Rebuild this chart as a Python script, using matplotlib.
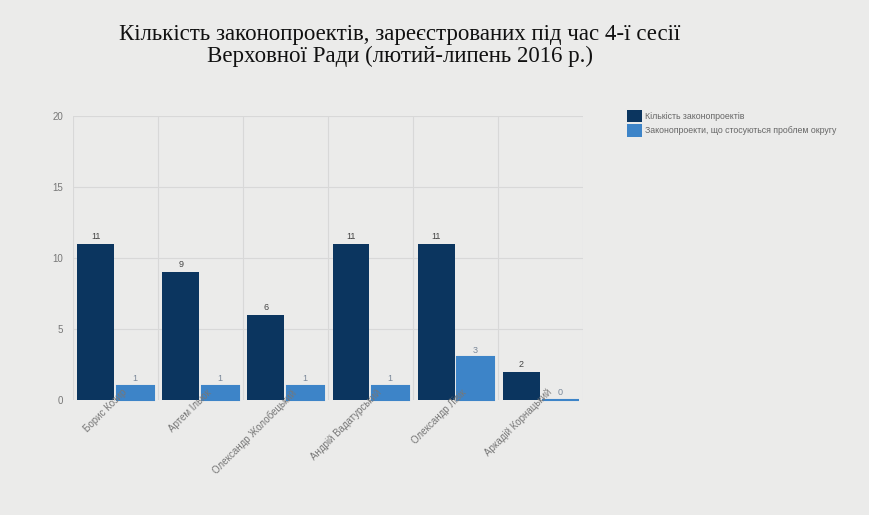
import numpy as np
from matplotlib import pyplot as plt
from matplotlib.patches import Patch

names = ["Борис Козир", "Артем Ільюк", "Олександр Жолобецький",
         "Андрій Вадатурський", "Олександр Лівік", "Аркадій Корнацький"]
bills = [11, 9, 6, 11, 11, 2]
district_bills = [1, 1, 1, 1, 3, 0]

title = "Кількість законопроектів, зареєстрованих під час 4-ї сесії\nВерховної Ради (лютий-липень 2016 р.)"
label1 = "Кількість законопроектів"
label2 = "Законопроекти, що стосуються проблем округу"

dark = "#0b355f"
light = "#3d84c8"
bg = "#ebebea"

fig = plt.figure(figsize=(8.69, 5.15), dpi=100, facecolor=bg)
ax = fig.add_axes([0.084, 0.2233, 0.587, 0.5515])
ax.set_facecolor(bg)
ax.set_axisbelow(False)  # tick labels drawn over the bars

x = np.arange(len(names))
w = 0.435
off = 0.23
b1 = ax.bar(x - off, bills, width=w, color=dark, zorder=2)
b2 = ax.bar(x + off, district_bills, width=w, color=light,
            edgecolor=light, linewidth=1.5, zorder=2)
for p in b2:
    p.set_clip_on(False)

for i in range(len(names)):
    ax.text(x[i] - off, bills[i] + 0.2, str(bills[i]), ha='center', va='bottom',
            fontsize=6.5, color="#444444", fontfamily="Liberation Sans")
    ax.text(x[i] + off, district_bills[i] + 0.2, str(district_bills[i]), ha='center',
            va='bottom', fontsize=6.5, color="#7a8899", fontfamily="Liberation Sans")

ax.set_xlim(-0.5, len(names) - 0.5)
ax.set_ylim(0, 20)
ax.set_yticks([0, 5, 10, 15, 20])
ax.set_xticks(x + 0.07)
ax.set_xticklabels(names, rotation=45, ha='right', rotation_mode='anchor',
                   fontsize=7, color="#777777", fontfamily="Liberation Sans")
for lab in ax.get_yticklabels():
    lab.set_fontfamily("Liberation Sans")
ax.tick_params(axis='y', length=0, labelsize=7, labelcolor="#777777", pad=7)
ax.tick_params(axis='x', length=0, pad=-9)

# grid behind the bars
for yv in [5, 10, 15, 20]:
    ax.axhline(yv, color="#d8d8d8", linewidth=0.8, zorder=0.5)
for xv in np.arange(-0.5, len(names) + 0.5, 1):
    ax.axvline(xv, color="#d8d8d8", linewidth=0.8, zorder=0.5)
for s in ax.spines.values():
    s.set_visible(False)

fig.text(0.46, 0.911, title, ha='center', va='center', fontsize=16.5,
         fontfamily="Liberation Serif", color="#111111", linespacing=1.05)

handles = [Patch(facecolor=dark), Patch(facecolor=light)]
fig.legend(handles=handles, labels=[label1, label2], loc='upper left',
           bbox_to_anchor=(0.712, 0.802), frameon=False,
           handlelength=1.8, handleheight=1.8, handletextpad=0.3,
           labelspacing=0.25, labelcolor="#666666",
           prop={'family': 'Liberation Sans', 'size': 6.3})

plt.savefig("out.png", dpi=100, facecolor=bg)
